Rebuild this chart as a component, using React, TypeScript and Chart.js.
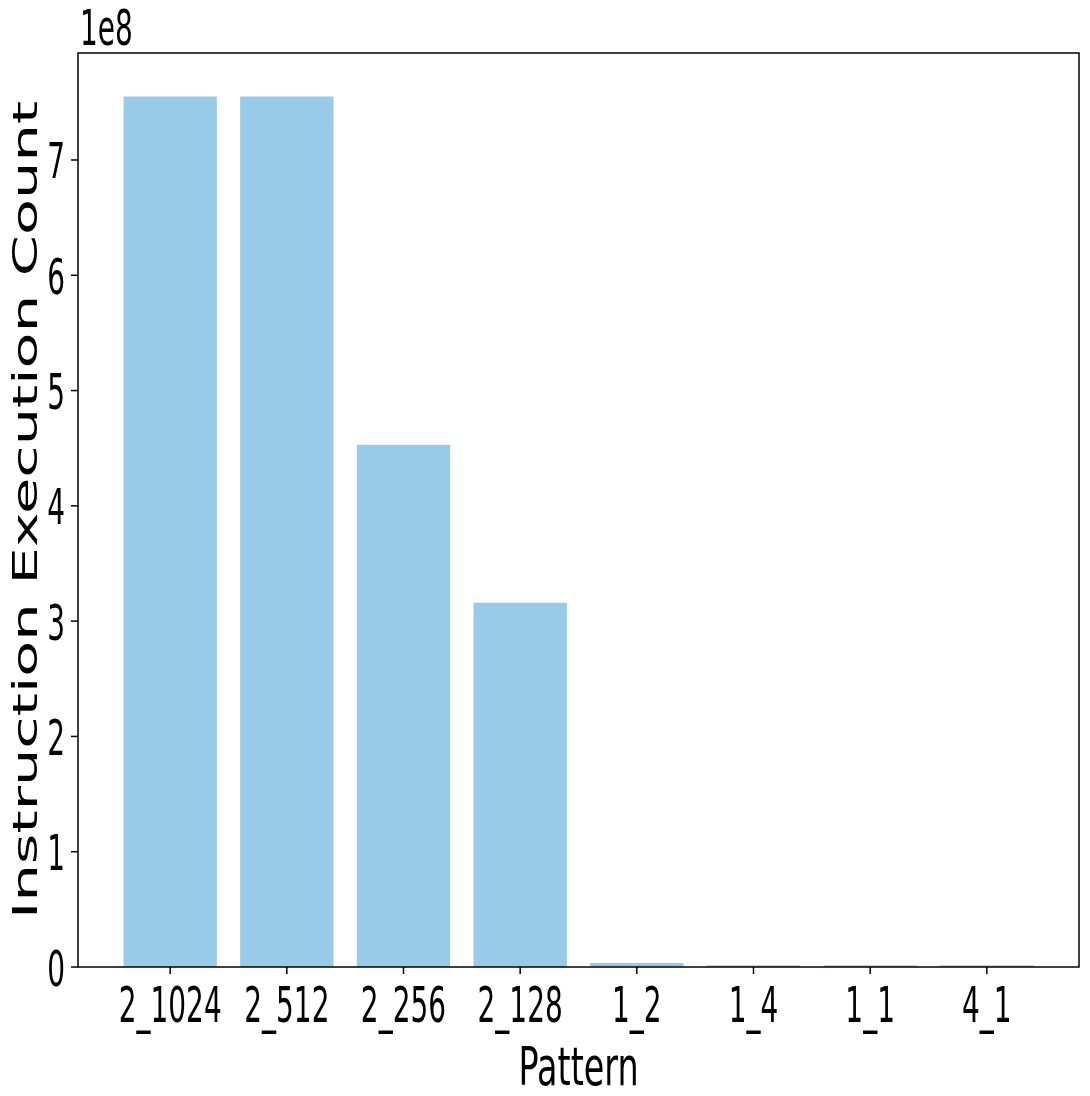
import React, { useEffect, useRef } from "react";
import { Chart, registerables } from "chart.js";

Chart.register(...registerables);

const categories = ["2_1024", "2_512", "2_256", "2_128", "1_2", "1_4", "1_1", "4_1"];
const counts = [7.55e8, 7.55e8, 4.53e8, 3.16e8, 3.5e6, 1.5e6, 1.5e6, 1.5e6];
const yTickValues = [0, 1e8, 2e8, 3e8, 4e8, 5e8, 6e8, 7e8];
const yTickLabels = ["0", "1", "2", "3", "4", "5", "6", "7"];
const xTitle = "Pattern";
const yTitle = "Instruction Execution Count";
const offsetText = "1e8";

const FONT = "'DejaVu Sans', sans-serif";
const SX = 0.56;

function drawText(
  ctx: CanvasRenderingContext2D,
  text: string,
  x: number,
  y: number,
  size: number,
  sx: number,
  align: CanvasTextAlign,
  rotate = 0
) {
  ctx.save();
  ctx.translate(x, y);
  if (rotate) ctx.rotate(rotate);
  if (rotate) ctx.scale(1, sx);
  else ctx.scale(sx, 1);
  ctx.font = `${size}px ${FONT}`;
  ctx.fillStyle = "#000";
  ctx.textAlign = align;
  ctx.textBaseline = "alphabetic";
  ctx.fillText(text, 0, 0);
  ctx.restore();
}

const axesPlugin = {
  id: "mplAxes",
  afterDraw(chart: any) {
    const ctx: CanvasRenderingContext2D = chart.ctx;
    const { left, right, top, bottom } = chart.chartArea;
    const xs = chart.scales.x;
    const ys = chart.scales.y;
    ctx.save();
    ctx.strokeStyle = "#000";
    ctx.lineWidth = 1.5;
    ctx.strokeRect(left, top, right - left, bottom - top);
    categories.forEach((label, i) => {
      const px = xs.getPixelForValue(i);
      ctx.beginPath();
      ctx.moveTo(px, bottom);
      ctx.lineTo(px, bottom + 7);
      ctx.stroke();
      drawText(ctx, label, px, 1022, 50, SX, "center");
    });
    yTickValues.forEach((v, i) => {
      const py = ys.getPixelForValue(v);
      ctx.beginPath();
      ctx.moveTo(left - 7, py);
      ctx.lineTo(left, py);
      ctx.stroke();
      drawText(ctx, yTickLabels[i], left - 13, py + 18.5, 50, SX, "right");
    });
    drawText(ctx, offsetText, 80, 45, 50, SX, "left");
    drawText(ctx, xTitle, (left + right) / 2, 1085, 53, 0.63, "center");
    drawText(ctx, yTitle, 37, (top + bottom) / 2, 59, 0.58, "center", -Math.PI / 2);
    ctx.restore();
  },
};

export default function App() {
  const ref = useRef<HTMLCanvasElement | null>(null);
  useEffect(() => {
    if (!ref.current) return;
    const chart = new Chart(ref.current, {
      type: "bar",
      data: {
        datasets: [
          {
            data: counts.map((v, i) => ({ x: i, y: v })),
            backgroundColor: "#97CBE7",
            borderWidth: 0,
            barPercentage: 0.8,
            categoryPercentage: 1,
          },
        ],
      },
      options: {
        animation: false,
        responsive: false,
        devicePixelRatio: 1,
        layout: { padding: { left: 78, top: 53, right: 11, bottom: 129 } },
        plugins: { legend: { display: false }, tooltip: { enabled: false } },
        scales: {
          x: {
            type: "linear",
            min: -0.79,
            max: 7.79,
            offset: false,
            display: false,
            ticks: { stepSize: 1, includeBounds: false },
          },
          y: { type: "linear", min: 0, max: 7.928e8, display: false },
        },
      },
      plugins: [axesPlugin],
    });
    return () => chart.destroy();
  }, []);
  return (
    <div style={{ position: "fixed", left: 0, top: 0, width: 1090, height: 1096, background: "#fff" }}>
      <canvas ref={ref} width={1090} height={1096} style={{ width: 1090, height: 1096 }} />
    </div>
  );
}
